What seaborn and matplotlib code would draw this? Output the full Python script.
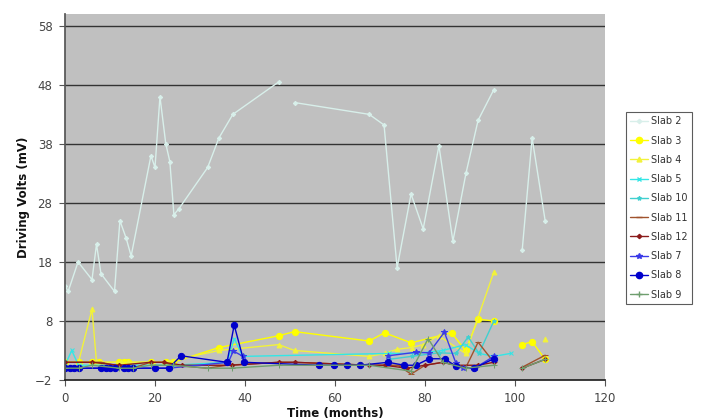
import numpy as np
import pandas as pd
import matplotlib
matplotlib.use("Agg")
import matplotlib.pyplot as plt
from matplotlib.lines import Line2D
import seaborn as sns

nan = np.nan

slab2_t = [0, 0.7, 2.9, 6, 7, 8, 11, 12.2, 13.6, 14.7, 19.1, 20, 21.1, 22.4, 23.3, 24.2, 25.3, 31.7, 34.2, 37.3, 47.5, nan,
           51, 67.6, 70.9, 73.8, 76.9, 79.6, 83.1, 86.2, 89.1, 91.8, 95.3, nan, 101.6, 103.8, 106.7]
slab2_v = [14, 13, 18, 15, 21, 16, 13, 25, 22, 19, 36, 34, 46, 38, 35, 26, 27, 34, 39, 43, 48.5, nan,
           45, 43, 41.2, 17, 29.5, 23.6, 37.7, 21.5, 33, 42, 47.2, nan, 20, 39, 25]

slab3_t = [0, 3, 6, 7.5, 12, 13, 14, 19, 22.5, 24, 34.2, 47.5, 51, 67.6, 71, 76.9, 85.9, 89, 91.8, 95.3, nan, 101.6, 103.8, 106.7]
slab3_v = [1, 1, 1, 1, 1, 1, 1, 1, 1, 1, 3.5, 5.5, 6.2, 4.6, 6, 4.3, 6, 3, 8.3, 8, nan, 4, 4.5, 1.5]

slab4_t = [0, 3, 6, 7, 8, 12.5, 14, 19.5, 22, 34.2, 47.5, 51, 67.6, 71, 73.8, 77, 79.6, 83, 89, 95.3, nan, 106.7]
slab4_v = [1, 1, 10, 1, 1, 1, 1, 1, 1, 3, 4, 3, 2, 2.5, 3.2, 3.5, 4, 5.5, 2.5, 16.3, nan, 5]

slab5_t = [0, 1.5, 3, 24, 36, 37.6, 39.5, 72, 78, 84, 89, 92, 95.3, 99]
slab5_v = [0.5, 3, 0.5, 0.5, 1, 5, 2, 2.5, 2.5, 3, 4, 2.5, 2, 2.5]

slab10_t = [72, 77, 83, 86.9, 89.6, 92, 95.3]
slab10_v = [1.5, 2, 2.6, 2.5, 5.3, 2.5, 8]

slab11_t = [0, 2, 6, 8, 11, 15, 19, 22, 24, 31.7, 36, 47.5, 51, 67.6, 71, 74, 76.9, 80, 84, 86.9, 89, 91.8, 95.3, nan, 101.7, 106.7]
slab11_v = [1, 1, 1, 1, 0.5, 0, 1, 1, 0.5, 0, 0.5, 1, 1, 0.5, 0.5, 0.5, -1, 0.5, 1, 0.5, 0, 4.4, 1, nan, 0.2, 2.2]

slab12_t = [0, 6, 12, 19, 22, 26, 37, 47.5, 51, 67.6, 71, 76, 80, 84, 86.9, 91.8, 95.3, nan, 101.6, 106.7]
slab12_v = [1, 1, 0.5, 1, 1, 0.5, 0.5, 1, 1, 0.5, 0.5, 0, 0.5, 1, 0.5, 0.5, 1, nan, 0, 1.5]

slab7_t = [0, 1, 2, 3, 8, 9, 10, 13, 14, 15, 20, 23, 36.3, 37.4, 39.6, nan, 71.8, 78, 80.9, 84.3, 86.9, 88.5, 91, 95.3]
slab7_v = [0, 0, 0, 0, 0, 0, 0, 0, 0, 0, 0, 0, 1, 2.9, 2, nan, 2.1, 2.7, 2.6, 6.1, 0.8, 0, 0, 2]

slab8_t = [0, 1, 2, 3, 8, 9, 10, 11, 13, 14, 15, 20, 23, 25.8, 36, 37.6, 39.8, 56.4, 59.7, 62.6, 65.5,
           71.8, 75.4, 78, 80.9, 84.4, 86.9, 90.9, 95.3]
slab8_v = [0, 0, 0, 0, 0, 0, 0, 0, 0, 0, 0, 0, 0, 2.1, 1, 7.3, 1, 0.5, 0.5, 0.5, 0.5,
           1, 0.5, 0.5, 1.6, 1.6, 0.3, 0, 1.6]

slab9_t = [0, 3, 6, 12, 15, 19, 24, 31.7, 37, 47.5, 67.6, 76.9, 80.7, 84, 89, 95.3, nan, 101.6, 106.7]
slab9_v = [0, 0, 0.5, 0, 0, 0.5, 0.5, 0, 0, 0.5, 0.5, -0.5, 5, 1, 0, 0.5, nan, 0, 1.5]

series = [
    ("Slab 2", slab2_t, slab2_v, "#D8EFEA", "D", 2.2),
    ("Slab 3", slab3_t, slab3_v, "#FFFF00", "o", 4.5),
    ("Slab 4", slab4_t, slab4_v, "#F2F23A", "^", 3.5),
    ("Slab 5", slab5_t, slab5_v, "#33E6E6", "x", 3),
    ("Slab 10", slab10_t, slab10_v, "#40D0D0", "*", 3),
    ("Slab 11", slab11_t, slab11_v, "#A0522D", "_", 4),
    ("Slab 12", slab12_t, slab12_v, "#8B1A1A", "D", 2.2),
    ("Slab 7", slab7_t, slab7_v, "#3A3AE8", "*", 4),
    ("Slab 8", slab8_t, slab8_v, "#0000CC", "o", 4.5),
    ("Slab 9", slab9_t, slab9_v, "#6E9E6E", "+", 4),
]

sns.set_theme(style="white")
plt.rcParams['font.family'] = ['DejaVu Sans']

fig = plt.figure(figsize=(7.03, 4.2), dpi=100)
ax = fig.add_axes([65/703, 40/420, 540/703, 366/420])
ax.set_facecolor("#C0C0C0")

handles = []
for name, t, v, col, mk, ms in series:
    t = np.array(t, dtype=float)
    v = np.array(v, dtype=float)
    seg = np.cumsum(np.isnan(v))
    df = pd.DataFrame({"t": t, "v": v, "seg": seg}).dropna()
    sns.lineplot(data=df, x="t", y="v", units="seg", estimator=None, sort=False,
                 color=col, marker=mk, markersize=ms, markeredgecolor=col,
                 linewidth=1.0, ax=ax, legend=False)
    handles.append(Line2D([0], [0], color=col, marker=mk, markersize=ms,
                          markeredgecolor=col, linewidth=1.0, label=name))

ax.set_xlim(0, 120)
ax.set_ylim(-2, 60)
ax.set_xticks(np.arange(0, 121, 20))
ax.set_yticks(np.arange(-2, 59, 10))
for y in np.arange(8, 59, 10):
    ax.axhline(y, color="#333333", linewidth=1.0, zorder=0.5)
ax.grid(False)
for s in ["top", "right"]:
    ax.spines[s].set_visible(False)
ax.spines["left"].set_color("#555555")
ax.spines["bottom"].set_color("#222222")
ax.tick_params(axis="both", which="major", direction="out", length=4, width=0.8,
               colors="#555555", labelcolor="#444444", labelsize=8.5, bottom=True, left=True,
               pad=5)
ax.set_xlabel("Time (months)", fontsize=8.5, fontweight="bold", color="#111111", labelpad=1)
ax.set_ylabel("Driving Volts (mV)", fontsize=8.5, fontweight="bold", color="#111111", labelpad=4)

leg = fig.legend(handles=handles, loc="upper left", bbox_to_anchor=(626/703, 1 - 112/420),
                 frameon=True, fontsize=7, handlelength=1.8, labelspacing=0.95,
                 borderpad=0.45, handletextpad=0.3, borderaxespad=0, fancybox=False)
leg.get_frame().set_edgecolor("#333333")
leg.get_frame().set_linewidth(0.8)
for txt in leg.get_texts():
    txt.set_color("#333333")

fig.savefig("out.png", dpi=100, facecolor="white")
